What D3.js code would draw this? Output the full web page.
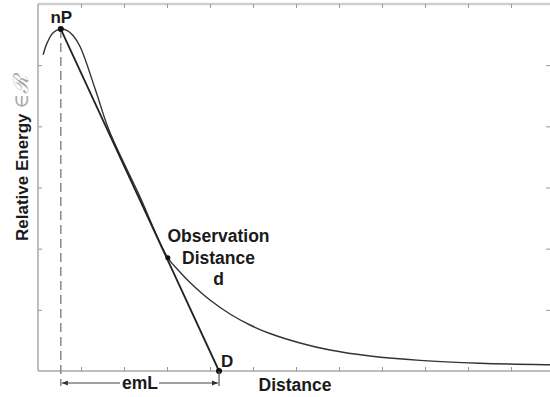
<!DOCTYPE html>
<html><head><meta charset="utf-8">
<script src="https://cdn.jsdelivr.net/npm/d3@7"></script>
<style>
html,body{margin:0;padding:0;background:#fff;}
svg{display:block;font-family:"Liberation Sans",Arial,sans-serif;}
</style></head>
<body>
<svg id="chart" width="550" height="397"></svg>
<script>
// Data (in chart units)
const curveX = [0.12,0.21,0.35,0.51,0.67,0.81,0.98,1.33,1.65,2.35,3.02,3.30,3.535,4.0,4.465,4.93,5.395,6.093,6.791,7.721,8.884,10.279,11.907,12.0];
const curveY = [5.17,5.36,5.53,5.59,5.57,5.49,5.30,4.61,3.94,2.88,1.85,1.62,1.448,1.161,0.932,0.752,0.613,0.458,0.343,0.245,0.173,0.127,0.101,0.10];
const peakPoint = {x:0.53, y:5.59, label:"nP"};
const obsPoint = {x:3.02, y:1.85, label:["Observation","Distance","d"]};
const dPoint = {x:4.21, y:0, label:"D"};
const xTicks = [0,1,2,3,4,5,6,7,8,9,10,11,12];
const yTicks = [0,1,2,3,4,5,6];
const xLabel = "Distance";
const yLabel = "Relative Energy ";
const dimLabel = "emL";

const svg = d3.select("#chart");
const x = d3.scaleLinear().domain([0,12]).range([38,554]);
const y = d3.scaleLinear().domain([0,6]).range([371,4]);

// frame
const frame = svg.append("g").attr("stroke","#a8a8a8").attr("fill","none");
frame.append("line").attr("x1",x(0)).attr("x2",x(12)).attr("y1",y(6)).attr("y2",y(6)).attr("stroke","#cfcfcf").attr("stroke-width",2.5);
frame.append("line").attr("x1",x(0)).attr("x2",x(0)).attr("y1",y(6)).attr("y2",y(0)).attr("stroke-width",1.5);
frame.append("line").attr("x1",x(0)).attr("x2",x(12)).attr("y1",y(0)).attr("y2",y(0)).attr("stroke-width",1.5);

function styleAxis(g){
  g.select(".domain").remove();
  g.selectAll(".tick line").attr("stroke","#999").attr("stroke-width",1);
  g.selectAll(".tick text").remove();
}
svg.append("g").attr("transform",`translate(0,${y(0)})`)
  .call(d3.axisBottom(x).tickValues(xTicks.slice(1,-1)).tickSize(-4).tickFormat("")).call(styleAxis);
svg.append("g").attr("transform",`translate(0,${y(6)})`)
  .call(d3.axisTop(x).tickValues(xTicks.slice(1,-1)).tickSize(-4).tickFormat("")).call(styleAxis);
svg.append("g").attr("transform",`translate(${x(0)},0)`)
  .call(d3.axisLeft(y).tickValues(yTicks.slice(1,-1)).tickSize(-4).tickFormat("")).call(styleAxis);
svg.append("g").attr("transform",`translate(${x(12)},0)`)
  .call(d3.axisRight(y).tickValues(yTicks.slice(1,-1)).tickSize(-8).tickFormat("")).call(styleAxis);

// dashed vertical from peak
svg.append("line").attr("x1",x(peakPoint.x)).attr("x2",x(peakPoint.x))
  .attr("y1",y(peakPoint.y)).attr("y2",y(0)+15)
  .attr("stroke","#8a8a8a").attr("stroke-width",1.5).attr("stroke-dasharray","9,5");

// curve
const pts = curveX.map((v,i)=>[v,curveY[i]]);
svg.append("path").datum(pts)
  .attr("d", d3.line().x(d=>x(d[0])).y(d=>y(d[1])).curve(d3.curveCatmullRom.alpha(0.5)))
  .attr("fill","none").attr("stroke","#333").attr("stroke-width",1.4);

// straight line nP -> D
svg.append("line").attr("x1",x(peakPoint.x)).attr("y1",y(peakPoint.y))
  .attr("x2",x(dPoint.x)).attr("y2",y(dPoint.y))
  .attr("stroke","#222").attr("stroke-width",1.8);

// dots
[peakPoint,dPoint].forEach(p=>{
  svg.append("circle").attr("cx",x(p.x)).attr("cy",y(p.y)).attr("r",3).attr("fill","#111");
});
svg.append("circle").attr("cx",x(obsPoint.x)).attr("cy",y(obsPoint.y)).attr("r",2.5).attr("fill","#111");

function txt(t,xx,yy,size,anchor){
  return svg.append("text").attr("x",xx).attr("y",yy).attr("font-size",size)
    .attr("font-weight","bold").attr("fill","#1a1a1a").attr("text-anchor",anchor||"middle").text(t);
}
txt(peakPoint.label, x(peakPoint.x)+0.5, 23, 17);
txt(dPoint.label, x(dPoint.x)+2, 367, 17, "start");
obsPoint.label.forEach((t,i)=>txt(t, 218.5, 242+i*21.5, 17.5));
txt(xLabel, 295, 391, 17.5);

// y label
const yl = svg.append("text").attr("transform","translate(28,241) rotate(-90)")
  .attr("text-anchor","start").attr("font-size",17).attr("font-weight","bold").attr("fill","#1a1a1a");
yl.append("tspan").text(yLabel);
yl.append("tspan").attr("font-family","DejaVu Serif,serif").attr("font-weight","normal").attr("fill","#a8a8a8").attr("font-size",20).text("\u2208");
yl.append("tspan").attr("font-family","DejaVu Serif,serif").attr("font-style","italic").attr("font-weight","normal").attr("fill","#a8a8a8").attr("font-size",21).text("\u211B");

// dimension emL
const dimY = y(0)+12;
svg.append("line").attr("x1",x(dPoint.x)).attr("x2",x(dPoint.x)).attr("y1",y(0)).attr("y2",y(0)+15)
  .attr("stroke","#555").attr("stroke-width",1.2);
svg.append("defs").html('<marker id="arr" viewBox="0 0 10 10" refX="10" refY="5" markerWidth="6" markerHeight="6" orient="auto-start-reverse"><path d="M0,1 L10,5 L0,9 z" fill="#333"/></marker>');
const midX = 140;
svg.append("line").attr("x1",x(peakPoint.x)+1).attr("x2",midX-20).attr("y1",dimY).attr("y2",dimY)
  .attr("stroke","#444").attr("stroke-width",1).attr("marker-start","url(#arr)");
svg.append("line").attr("x1",midX+19).attr("x2",x(dPoint.x)-1).attr("y1",dimY).attr("y2",dimY)
  .attr("stroke","#444").attr("stroke-width",1).attr("marker-end","url(#arr)");
txt(dimLabel, midX, dimY+6, 17.5);
</script>
</body></html>
